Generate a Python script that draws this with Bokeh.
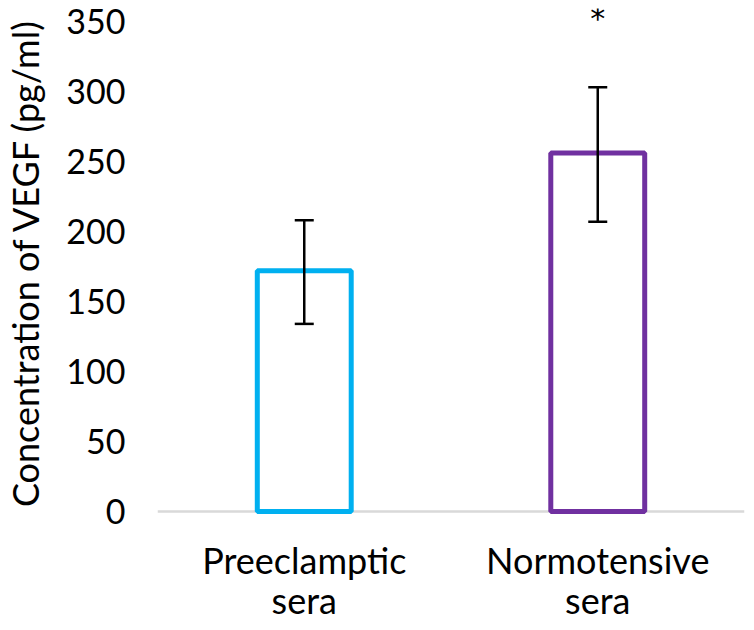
from bokeh.plotting import figure
from bokeh.models import ColumnDataSource, Whisker, TeeHead, FixedTicker, Range1d, FactorRange, Span
from bokeh.core.properties import value
from bokeh.embed import file_html
from bokeh.resources import INLINE

categories = ["Preeclamptic", "Normotensive"]
label_line1 = ["Preeclamptic", "Normotensive"]
label_line2 = ["sera", "sera"]
means = [172, 256]
err_lower = [134, 207]
err_upper = [208, 303]
bar_colors = ["#00B0F0", "#7030A0"]
yticks = [0, 50, 100, 150, 200, 250, 300, 350]
star_label = ["", "*"]
star_y = [352.5, 352.5]
# anchors of the two category-label lines (in value units, below zero)
label_y1 = [-35, -35]
label_y2 = [-63, -63]

FONT = "Lato"

src = ColumnDataSource(dict(cat=categories, mean=means, lo=err_lower, hi=err_upper,
                            color=bar_colors, star=star_label, sy=star_y))
lab = ColumnDataSource(dict(cat=categories, l1=label_line1, l2=label_line2,
                            y1=label_y1, y2=label_y2))

p = figure(x_range=FactorRange(*categories, range_padding=0), y_range=Range1d(-73.6, 359.3),
           width=746, height=614, output_backend="svg", toolbar_location=None,
           x_axis_location=None,
           min_border_top=8, min_border_right=2, min_border_left=149, min_border_bottom=0)

p.add_layout(Span(location=0, dimension="width", line_color="#D9D9D9", line_width=2.5,
                  level="underlay"))

p.vbar(x="cat", top="mean", width=0.32, bottom=0, source=src,
       fill_color="white", line_color="color", line_width=5)

w = Whisker(base="cat", lower="lo", upper="hi", source=src, line_color="black", line_width=2.5,
            level="overlay",
            upper_head=TeeHead(size=19, line_color="black", line_width=2.5),
            lower_head=TeeHead(size=19, line_color="black", line_width=2.5))
p.add_layout(w)

p.text(x="cat", y="sy", text="star", source=src, text_align="center", text_baseline="alphabetic",
       text_font=value("DejaVu Sans"), text_font_size="30px", text_color="black")

# category labels (two lines) under the baseline
p.text(x="cat", y="y1", text="l1", source=lab, text_align="center", text_baseline="alphabetic",
       text_font=value(FONT), text_font_size="36px", text_color="black")
p.text(x="cat", y="y2", text="l2", source=lab, text_align="center", text_baseline="alphabetic",
       text_font=value(FONT), text_font_size="36px", text_color="black")

p.grid.visible = False
p.outline_line_color = None

p.yaxis.ticker = FixedTicker(ticks=yticks)
p.yaxis.axis_line_color = None
p.yaxis.major_tick_line_color = None
p.yaxis.minor_tick_line_color = None
p.yaxis.major_label_text_font = FONT
p.yaxis.major_label_text_font_size = "34px"
p.yaxis.major_label_text_color = "black"
p.yaxis.major_label_standoff = 26
# leading em-spaces lift the centred title so that it sits beside the 0-350 part of the axis
p.yaxis.axis_label = "\u2003\u2003\u2003\u2004\u2009Concentration of VEGF (pg/ml)"
p.yaxis.axis_label_text_font = FONT
p.yaxis.axis_label_text_font_size = "36px"
p.yaxis.axis_label_text_font_style = "normal"
p.yaxis.axis_label_text_color = "black"
p.yaxis.axis_label_standoff = 16

open("out.html", "w").write(file_html(p, INLINE))
